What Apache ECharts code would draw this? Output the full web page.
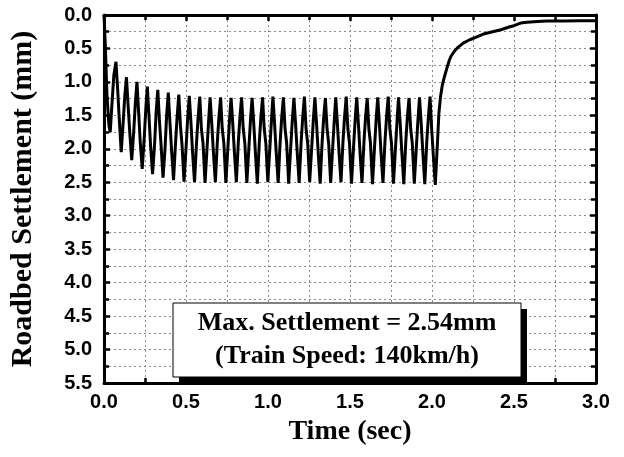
<!DOCTYPE html>
<html>
<head>
<meta charset="utf-8">
<script src="https://cdn.jsdelivr.net/npm/echarts@6/dist/echarts.min.js"></script>
<style>
html,body{margin:0;padding:0;background:#fff;}
#chart{width:624px;height:457px;}
</style>
</head>
<body>
<div id="chart"></div>
<script>
// Time (sec) sample points
var timeSec = [
  0.000, 0.008, 0.018, 0.030, 0.038, 0.048, 0.060,
  0.073, 0.083, 0.093, 0.105, 0.117, 0.127,
  0.137, 0.147, 0.157, 0.169, 0.181, 0.191,
  0.201, 0.211, 0.221, 0.233, 0.245, 0.255,
  0.264, 0.274, 0.284, 0.296, 0.308, 0.318,
  0.328, 0.338, 0.348, 0.360, 0.372, 0.382,
  0.392, 0.402, 0.412, 0.424, 0.436, 0.446,
  0.456, 0.466, 0.476, 0.488, 0.500, 0.510,
  0.520, 0.530, 0.540, 0.552, 0.564, 0.574,
  0.584, 0.594, 0.604, 0.616, 0.628, 0.638,
  0.647, 0.657, 0.667, 0.679, 0.691, 0.701,
  0.711, 0.721, 0.731, 0.743, 0.755, 0.765,
  0.775, 0.785, 0.795, 0.807, 0.819, 0.829,
  0.839, 0.849, 0.859, 0.871, 0.883, 0.893,
  0.903, 0.913, 0.923, 0.935, 0.947, 0.957,
  0.967, 0.977, 0.987, 0.999, 1.011, 1.021,
  1.030, 1.040, 1.050, 1.062, 1.074, 1.084,
  1.094, 1.104, 1.114, 1.126, 1.138, 1.148,
  1.158, 1.168, 1.178, 1.190, 1.202, 1.212,
  1.222, 1.232, 1.242, 1.254, 1.266, 1.276,
  1.286, 1.296, 1.306, 1.318, 1.330, 1.340,
  1.350, 1.360, 1.370, 1.382, 1.394, 1.404,
  1.413, 1.423, 1.433, 1.445, 1.457, 1.467,
  1.477, 1.487, 1.497, 1.509, 1.521, 1.531,
  1.541, 1.551, 1.561, 1.573, 1.585, 1.595,
  1.605, 1.615, 1.625, 1.637, 1.649, 1.659,
  1.669, 1.679, 1.689, 1.701, 1.713, 1.723,
  1.733, 1.743, 1.753, 1.765, 1.777, 1.787,
  1.796, 1.806, 1.816, 1.828, 1.840, 1.850,
  1.860, 1.870, 1.880, 1.892, 1.904, 1.914,
  1.924, 1.934, 1.944, 1.956, 1.968, 1.978,
  1.988, 1.998, 2.008, 2.020,
  2.032, 2.042, 2.052, 2.062, 2.075, 2.090, 2.105, 2.115, 2.125, 2.140,
  2.160, 2.190, 2.230, 2.270, 2.320, 2.370, 2.420, 2.470, 2.500, 2.540,
  2.580, 2.620, 2.700, 2.800, 2.900, 3.000
];
// Roadbed settlement (mm) at those times
var settlementMm = [
  0.00, 0.45, 1.20, 1.65, 1.75, 1.35, 0.90,
  0.70, 1.10, 1.55, 2.05, 1.60, 1.20,
  0.93, 1.35, 1.75, 2.17, 1.75, 1.32,
  1.00, 1.45, 1.90, 2.30, 1.85, 1.40,
  1.07, 1.50, 1.95, 2.38, 1.95, 1.45,
  1.12, 1.58, 1.95, 2.43, 2.00, 1.50,
  1.16, 1.60, 2.02, 2.47, 1.92, 1.52,
  1.19, 1.65, 1.95, 2.49, 2.00, 1.55,
  1.21, 1.60, 2.05, 2.50, 1.92, 1.52,
  1.22, 1.70, 1.92, 2.51, 2.00, 1.58,
  1.23, 1.62, 2.05, 2.50, 1.90, 1.52,
  1.23, 1.70, 1.92, 2.51, 2.00, 1.58,
  1.24, 1.62, 2.05, 2.50, 1.90, 1.52,
  1.23, 1.70, 1.92, 2.51, 2.00, 1.58,
  1.24, 1.62, 2.05, 2.52, 1.90, 1.52,
  1.23, 1.70, 1.92, 2.50, 2.00, 1.58,
  1.22, 1.62, 2.05, 2.51, 1.90, 1.52,
  1.23, 1.70, 1.92, 2.52, 2.00, 1.58,
  1.24, 1.62, 2.05, 2.51, 1.90, 1.52,
  1.22, 1.70, 1.92, 2.50, 2.00, 1.58,
  1.23, 1.62, 2.05, 2.52, 1.90, 1.52,
  1.24, 1.70, 1.92, 2.51, 2.00, 1.58,
  1.23, 1.62, 2.05, 2.50, 1.90, 1.52,
  1.22, 1.70, 1.92, 2.52, 2.00, 1.58,
  1.23, 1.62, 2.05, 2.51, 1.90, 1.52,
  1.24, 1.70, 1.92, 2.53, 2.00, 1.58,
  1.23, 1.62, 2.05, 2.51, 1.90, 1.52,
  1.22, 1.70, 1.92, 2.52, 2.00, 1.58,
  1.23, 1.62, 2.05, 2.53, 1.90, 1.52,
  1.24, 1.70, 1.92, 2.52, 2.00, 1.58,
  1.23, 1.62, 2.05, 2.53, 1.90, 1.52,
  1.22, 1.70, 2.10, 2.54,
  1.97, 1.47, 1.22, 1.06, 0.93, 0.80, 0.68, 0.62, 0.60, 0.53,
  0.48, 0.42, 0.37, 0.33, 0.28, 0.25, 0.22, 0.18, 0.16, 0.12,
  0.11, 0.10, 0.09, 0.09, 0.085, 0.085
];
var xTickLabels = ['0.0','0.5','1.0','1.5','2.0','2.5','3.0'];
var yTickLabels = ['0.0','0.5','1.0','1.5','2.0','2.5','3.0','3.5','4.0','4.5','5.0','5.5'];
var noteLines = ['Max. Settlement = 2.54mm', '(Train Speed: 140km/h)'];

var curve = timeSec.map(function (t, i) { return [t, settlementMm[i]]; });

var chart = echarts.init(document.getElementById('chart'), null, {renderer: 'canvas'});

var gridStyle = {show: true, lineStyle: {color: '#8a8a8a', type: [2, 3], width: 1}};
var labelFont = {fontFamily: 'Liberation Sans', fontWeight: 'bold', fontSize: 20, color: '#000'};

function xFmt(v) { var i = Math.round(v / 0.5); return xTickLabels[i] || ''; }
function yFmt(v) { var i = Math.round(v / 0.5); return yTickLabels[i] || ''; }

var baseX = {
  type: 'value', min: 0, max: 3, interval: 0.5,
  axisLine: {show: true, onZero: false, lineStyle: {color: '#000', width: 3}},
  axisTick: {show: true, inside: true, length: 6, lineStyle: {color: '#000', width: 2.5}},
  minorTick: {show: true, splitNumber: 2, length: 5, lineStyle: {color: '#000', width: 2.5}}
};
var baseY = {
  type: 'value', min: 0, max: 5.5, interval: 0.5, inverse: true,
  axisLine: {show: true, onZero: false, lineStyle: {color: '#000', width: 3}},
  axisTick: {show: true, inside: true, length: 6, lineStyle: {color: '#000', width: 2.5}},
  minorTick: {show: true, splitNumber: 2, length: 5, lineStyle: {color: '#000', width: 2.5}}
};

var option = {
  animation: false,
  backgroundColor: '#fff',
  grid: {left: 102, right: 28, top: 15, bottom: 74, containLabel: false},
  xAxis: [
    Object.assign({}, baseX, {
      position: 'bottom',
      name: 'Time (sec)', nameLocation: 'middle', nameGap: 35,
      nameTextStyle: {fontFamily: 'Liberation Serif', fontWeight: 'bold', fontSize: 28, color: '#000'},
      axisLabel: Object.assign({margin: 9, formatter: xFmt}, labelFont),
      splitLine: gridStyle, minorSplitLine: gridStyle
    }),
    Object.assign({}, baseX, {
      position: 'top',
      axisLabel: {show: false}, splitLine: {show: false}, minorSplitLine: {show: false}
    })
  ],
  yAxis: [
    Object.assign({}, baseY, {
      position: 'left',
      name: 'Roadbed Settlement (mm)', nameLocation: 'middle', nameGap: 66, nameRotate: 90,
      nameTextStyle: {fontFamily: 'Liberation Serif', fontWeight: 'bold', fontSize: 30, color: '#000'},
      axisLabel: Object.assign({margin: 12, formatter: yFmt}, labelFont),
      splitLine: gridStyle, minorSplitLine: gridStyle
    }),
    Object.assign({}, baseY, {
      position: 'right',
      axisLabel: {show: false}, splitLine: {show: false}, minorSplitLine: {show: false}
    })
  ],
  series: [{
    type: 'line',
    data: curve,
    xAxisIndex: 0, yAxisIndex: 0,
    showSymbol: false,
    smooth: false,
    lineStyle: {color: '#000', width: 3},
    z: 3
  }],
  graphic: [
    {type: 'rect', shape: {x: 179, y: 309, width: 348, height: 74}, style: {fill: '#000'}, z: 10},
    {type: 'rect', shape: {x: 173, y: 303, width: 348, height: 74}, style: {fill: '#fff', stroke: '#000', lineWidth: 1}, z: 11},
    {type: 'text', x: 347, y: 323, z: 12,
     style: {text: noteLines[0], fill: '#000', font: 'bold 26px "Liberation Serif"', align: 'center', verticalAlign: 'middle'}},
    {type: 'text', x: 347, y: 356, z: 12,
     style: {text: noteLines[1], fill: '#000', font: 'bold 26px "Liberation Serif"', align: 'center', verticalAlign: 'middle'}}
  ]
};
chart.setOption(option);
</script>
</body>
</html>
